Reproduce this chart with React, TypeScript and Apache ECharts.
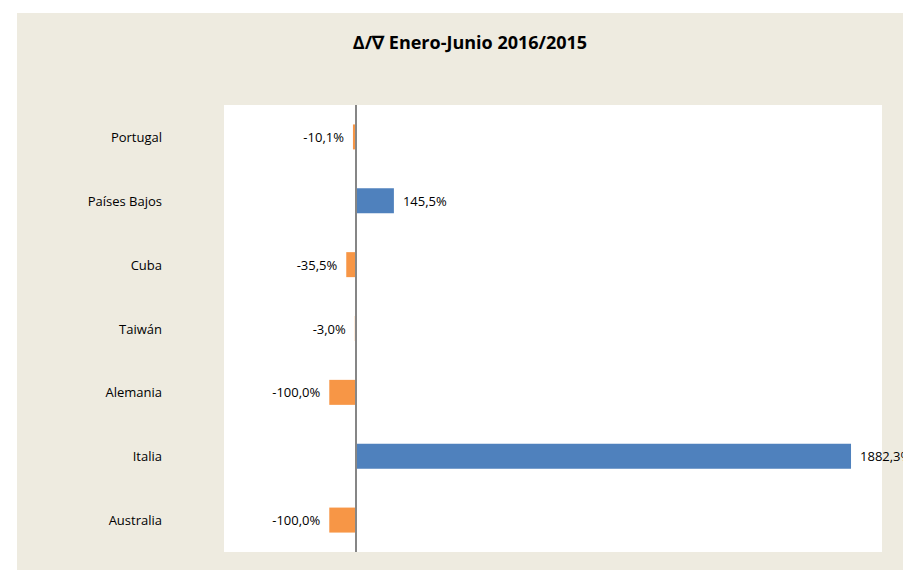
import React, { useEffect, useRef } from "react";
import * as echarts from "echarts";

const categories = ["Portugal", "Países Bajos", "Cuba", "Taiwán", "Alemania", "Italia", "Australia"];
const variation = [-10.1, 145.5, -35.5, -3.0, -100.0, 1882.3, -100.0];
const titleText = "\u0394/\u2207 Enero-Junio 2016/2015";

const POS = "#4F81BD";
const NEG = "#F79646";
const FONT = "'Open Sans', 'Noto Sans', sans-serif";

export default function App() {
  const ref = useRef<HTMLDivElement>(null);
  useEffect(() => {
    document.body.style.margin = "0";
    const chart = echarts.init(ref.current!, null, { renderer: "svg" });
    chart.setOption({
      animation: false,
      backgroundColor: "#ffffff",
      textStyle: { fontFamily: FONT },
      graphic: [
        {
          type: "rect",
          z: -10,
          silent: true,
          shape: { x: 17, y: 13, width: 886, height: 557 },
          style: { fill: "#EEEBE0" },
        },
        {
          type: "text",
          x: 470,
          y: 42,
          style: {
            text: titleText,
            align: "center",
            verticalAlign: "middle",
            font: `bold 18px ${FONT}`,
            fill: "#000",
          },
        },
      ],
      grid: {
        left: 224,
        right: 21,
        top: 105,
        bottom: 18,
        show: true,
        backgroundColor: "#ffffff",
        borderWidth: 0,
        containLabel: false,
      },
      xAxis: {
        type: "value",
        min: -500,
        max: 2000,
        show: false,
        splitLine: { show: false },
      },
      yAxis: {
        type: "category",
        data: categories,
        inverse: true,
        axisLine: { show: false, onZero: false },
        axisTick: { show: false },
        splitLine: { show: false },
        axisLabel: { margin: 62, color: "#000", fontSize: 13, fontFamily: FONT },
      },
      series: [
        {
          type: "bar",
          barWidth: 25,
          data: variation.map((v) => ({
            value: v,
            itemStyle: { color: v >= 0 ? POS : NEG },
            label: { position: v >= 0 ? "right" : "left" },
          })),
          label: {
            show: true,
            distance: 9,
            color: "#000",
            fontSize: 13,
            fontFamily: FONT,
            formatter: (p: any) => p.value.toFixed(1).replace(".", ",") + "%",
          },
          markLine: {
            silent: true,
            symbol: ["none", "none"],
            label: { show: false },
            lineStyle: { color: "#868686", width: 2, type: "solid" },
            data: [{ xAxis: 0 }],
          },
        },
      ],
    });
    return () => chart.dispose();
  }, []);
  return <div ref={ref} style={{ width: 903, height: 570 }} />;
}
